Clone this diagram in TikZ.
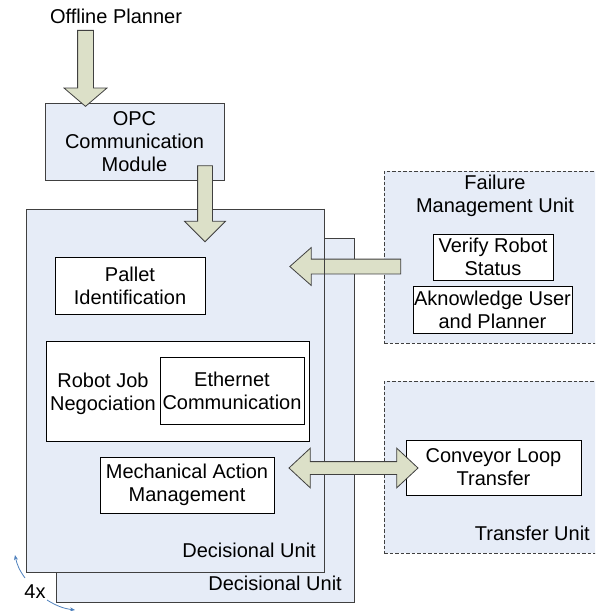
\documentclass[tikz,border=0pt]{standalone}
\usepackage{fontspec}
\setmainfont{Liberation Sans}
\usetikzlibrary{shapes.arrows,arrows.meta}
\definecolor{boxblue}{HTML}{E6ECF7}
\definecolor{arrowfill}{HTML}{DCE0C8}
\definecolor{edgegray}{HTML}{404040}
\definecolor{curveblue}{HTML}{4F81BD}
\begin{document}
\begin{tikzpicture}[x=1pt,y=-1pt,font=\fontsize{20}{23}\selectfont,
  unit/.style={rectangle,draw=edgegray,fill=boxblue,line width=0.8pt,inner sep=0},
  dunit/.style={rectangle,draw=black!75,fill=boxblue,dash pattern=on 3.5pt off 2pt,line width=0.8pt,inner sep=0},
  module/.style={rectangle,draw=black,fill=white,line width=0.8pt,align=center,inner sep=0},
  lbl/.style={align=center,inner sep=0},
  blockarrow/.style={single arrow,draw=edgegray,fill=arrowfill,line width=0.8pt,inner xsep=0},
  dblockarrow/.style={double arrow,draw=edgegray,fill=arrowfill,line width=0.8pt,inner xsep=0},
  turn/.style={curveblue,line width=0.8pt,-{Stealth[length=5pt,width=4pt]}}
]
\useasboundingbox (0,0) rectangle (595,611);
\clip (0,0) rectangle (595,611);
% decisional units
\node[unit,minimum width=298pt,minimum height=364pt] (du2) at (205,420) {};
\node[unit,minimum width=298pt,minimum height=363pt] (du1) at (175,390.5) {};
\node[lbl,anchor=east] (du2lbl) at (342,583) {Decisional Unit};
\node[lbl,anchor=east] (du1lbl) at (316,550) {Decisional Unit};
% modules in decisional unit
\node[module,minimum width=150pt,minimum height=57pt] (pallet) at (130,285.5) {Pallet\\Identification};
\node[module,minimum width=263pt,minimum height=100pt] (rjn) at (177.5,391) {};
\node[lbl] (rjnlbl) at (103,394) {Robot Job\\Negociation};
\node[module,minimum width=144pt,minimum height=67pt] (eth) at (232,390.5) {Ethernet\\Communication};
\node[module,minimum width=174pt,minimum height=56pt] (mech) at (187,485) {Mechanical Action\\Management};
% OPC
\node[unit,align=center,minimum width=179pt,minimum height=77pt] (opc) at (134.5,141.5) {OPC\\Communication\\Module};
\node[lbl] (planner) at (116,16) {Offline Planner};
% failure unit
\node[dunit,minimum width=236pt,minimum height=172pt] (fmu) at (502,257) {};
\node[lbl] (fmulbl) at (495,196) {Failure\\Management Unit};
\node[module,minimum width=120pt,minimum height=46pt] (verify) at (493,257) {Verify Robot\\Status};
\node[module,minimum width=159pt,minimum height=47pt] (akn) at (492.5,309.5) {Aknowledge User\\and Planner};
% transfer unit
\node[dunit,minimum width=236pt,minimum height=172pt] (tu) at (502,467) {};
\node[lbl,anchor=east] (tulbl) at (590,533) {Transfer Unit};
\node[module,minimum width=175pt,minimum height=55pt] (conv) at (493.5,467.5) {Conveyor Loop\\Transfer};
% block arrows
\node[blockarrow,rotate=-90,inner ysep=7.5pt,minimum height=76pt,minimum width=42pt,single arrow head extend=13.5pt,single arrow tip angle=99] (a1) at (85.5,65) {};
\node[blockarrow,rotate=-90,inner ysep=7pt,minimum height=76pt,minimum width=40pt,single arrow head extend=13pt,single arrow tip angle=90] (a2) at (205,200) {};
\node[blockarrow,rotate=180,inner ysep=7pt,minimum height=111pt,minimum width=37pt,single arrow head extend=11.5pt,single arrow tip angle=83] (af) at (349.5,266.5) {};
\draw[edgegray,line width=0.8pt] (du1.north east) -- (du1.south east);
\node[dblockarrow,inner ysep=6pt,minimum height=129pt,minimum width=39pt,double arrow head extend=13.5pt,double arrow tip angle=86] (ad) at (353.5,468) {};
% 4x
\node[lbl] (four) at (35,592) {4x};
\coordinate (c1s) at (25,578);
\coordinate (c1e) at (15,555);
\coordinate (c2s) at (47,600);
\coordinate (c2e) at (75,610);
\draw[turn] (c1s) to[bend left=12] (c1e);
\draw[turn] (c2s) to[bend right=12] (c2e);
\end{tikzpicture}
\end{document}
